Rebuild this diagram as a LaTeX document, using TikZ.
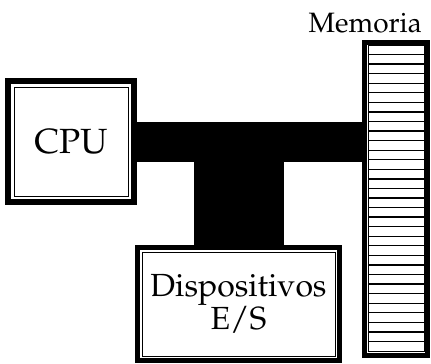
\documentclass[tikz,border=0pt]{standalone}
\usepackage[T1]{fontenc}
\usepackage{mathpazo}
\usetikzlibrary{calc,positioning}

\begin{document}
\begin{tikzpicture}[x=1pt,y=-1pt,
    unit/.style={draw,line width=6pt,inner sep=0pt,font=\fontsize{32}{29}\selectfont},
    inner/.style={line width=0.9pt},
    bus/.style={draw=black,line width=40pt},
    stripe/.style={line width=1.3pt}]
    \useasboundingbox (0,0) rectangle (431,364);

    \node[unit,font=\fontsize{35}{36}\selectfont,minimum width=126pt,minimum height=121pt] (cpu) at (71,141.5) {CPU};
    \node[unit,line width=5pt,minimum width=202pt,minimum height=113pt,align=center] (io) at (238.5,304) {Dispositivos\\E/S};
    \node[unit,line width=5pt,minimum width=63pt,minimum height=313pt] (mem) at (396,199) {};
    \node[inner sep=0pt,font=\fontsize{28}{30}\selectfont,above left=7pt and 8pt of mem.north east] (memlbl) {Memoria};

    % marcos interiores
    \draw[inner] ([shift={(9pt,-9pt)}]cpu.north west) rectangle ([shift={(-9pt,9pt)}]cpu.south east);
    \draw[inner] ([shift={(7pt,-7pt)}]io.north west) rectangle ([shift={(-7pt,7pt)}]io.south east);
    \coordinate (mtl) at ([shift={(6pt,-5pt)}]mem.north west);
    \coordinate (mtr) at ([shift={(-6pt,-5pt)}]mem.north east);
    \coordinate (mbl) at ([shift={(6pt,7pt)}]mem.south west);
    \coordinate (mbr) at ([shift={(-6pt,7pt)}]mem.south east);
    \draw[inner] (mtl) rectangle (mbr);
    \foreach \k in {1,...,31}
        \draw[stripe] ($(mtl)!\k/32!(mbl)$) -- ($(mtr)!\k/32!(mbr)$);

    % buses
    \path[bus]
    (cpu.east) edge (cpu.east -| mem.west)
    (io.north) edge[line width=90pt] (io.north |- cpu.east);
\end{tikzpicture}
\end{document}
